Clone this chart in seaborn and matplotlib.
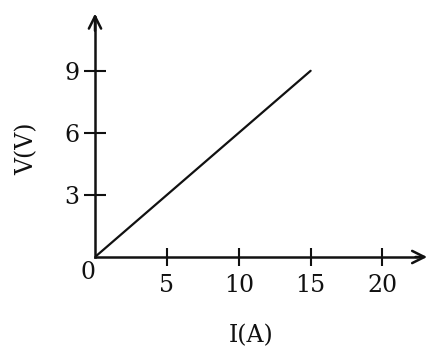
import matplotlib
matplotlib.use("Agg")
import matplotlib.pyplot as plt
import seaborn as sns
import pandas as pd

current = [0, 15]
voltage = [0, 9]
x_ticks = [5, 10, 15, 20]
y_ticks = [3, 6, 9]

sns.set_theme(style="white")
plt.rcParams['font.family'] = ['DejaVu Serif']

df = pd.DataFrame({"I": current, "V": voltage})

fig = plt.figure(figsize=(4.27, 3.51), dpi=100)
ax = fig.add_axes([95/427, 94/351, 322/427, 240/351])
sns.lineplot(data=df, x="I", y="V", ax=ax, color="#111111", linewidth=1.6)

xmax, ymax = 22.4, 11.6
ax.set_xlim(0, xmax)
ax.set_ylim(0, ymax)

for s in ["top", "right"]:
    ax.spines[s].set_visible(False)
for s in ["left", "bottom"]:
    ax.spines[s].set_color("#111111")
    ax.spines[s].set_linewidth(1.8)

ax.set_xticks(x_ticks)
ax.set_yticks(y_ticks)
ax.set_xticklabels([str(t) for t in x_ticks], fontsize=17)
ax.set_yticklabels([str(t) for t in y_ticks], fontsize=17)
ax.tick_params(axis="x", bottom=True, direction="inout", length=13, width=1.5,
               color="#111111", pad=6, labelcolor="#111111")
ax.tick_params(axis="y", left=True, direction="inout", length=16, width=1.5,
               color="#111111", pad=3, labelcolor="#111111")

ax.annotate("", xy=(xmax + 0.9, 0), xytext=(xmax - 0.3, 0),
            arrowprops=dict(arrowstyle="->", color="#111111", lw=1.8, mutation_scale=22),
            annotation_clip=False)
ax.annotate("", xy=(0, ymax + 0.3), xytext=(0, ymax - 0.8),
            arrowprops=dict(arrowstyle="->", color="#111111", lw=1.8, mutation_scale=22),
            annotation_clip=False)

ax.annotate("0", xy=(0, 0), xytext=(-5, -11), textcoords="offset points",
            ha="center", va="center", fontsize=17, color="#111111", annotation_clip=False)

ax.set_xlabel("I(A)", fontsize=17, color="#111111")
ax.set_ylabel("V(V)", fontsize=17, color="#111111")
ax.xaxis.set_label_coords(0.484, -0.28)
ax.yaxis.set_label_coords(-0.175, 0.45)

fig.savefig("out.png", dpi=100, facecolor="white")
